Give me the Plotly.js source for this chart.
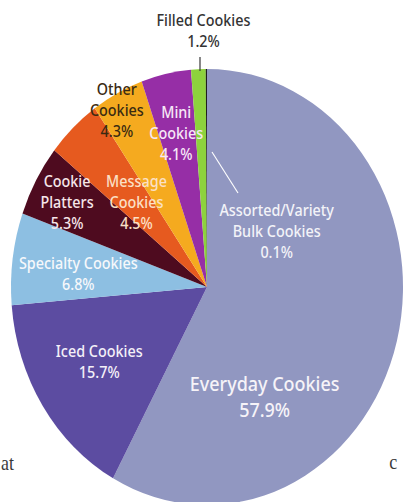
<!DOCTYPE html>
<html>
<head>
<meta charset="utf-8">
<script src="https://cdn.plot.ly/plotly-3.0.1.min.js"></script>
<style>
  html, body { margin: 0; padding: 0; background: #ffffff; overflow: hidden; width: 403px; height: 502px; }
  #wrap { width: 403px; height: 502px; overflow: hidden; position: relative; }
  #chart { width: 460px; height: 520px; transform-origin: 0 0; position: absolute; left: 0; top: 0; }
</style>
</head>
<body>
<div id="wrap"><div id="chart"></div></div>
<script>
// ---- data ----
const labels = ["Everyday Cookies", "Iced Cookies", "Specialty Cookies", "Cookie Platters",
                "Message Cookies", "Other Cookies", "Mini Cookies", "Filled Cookies",
                "Assorted/Variety Bulk Cookies"];
const values = [57.9, 15.7, 6.8, 5.3, 4.5, 4.3, 4.1, 1.2, 0.1];
const displayLabels = ["Everyday Cookies", "Iced Cookies", "Specialty Cookies", "Cookie<br>Platters",
                       "Message<br>Cookies", "Other<br>Cookies", "Mini<br>Cookies", "Filled Cookies",
                       "Assorted/Variety<br>Bulk Cookies"];
const colors = ["#9197c1", "#5c4ca1", "#8dbfe2", "#4e0b1f", "#e65a1f", "#f5aa1f", "#962ea6", "#8dd23d", "#1e1e1e"];
const strayText = ["at", "c"];

// ---- geometry (pixels in the 403x502 window) ----
const W = 460, H = 520;
const cx = 207, cy = 287, rx = 196, ry = 218;
const sx = rx / ry;
document.getElementById('chart').style.transform = 'scaleX(' + sx + ')';
const ucx = cx / sx;
const P = (x, y) => ({ x: (x / sx) / W, y: 1 - y / H });

// label placement & styles (pixel centers in the window)
const labelPos = [[265, 396, 20, "#f6f3f8"], [99, 361, 16, "#f4f0f8"], [78, 273, 16, "#f6f8fb"],
                  [67, 202, 16, "#f6e6ea"], [137, 202, 16, "#fbe0c6"], [117, 110, 16, "#3a2a12"],
                  [176, 133, 16, "#f6e8f7"], [204, 30, 16, "#333333"], [277, 231, 16, "#f3f3f8"]];

const annotations = labels.map((l, i) => {
  const p = P(labelPos[i][0], labelPos[i][1]);
  return {
    xref: 'paper', yref: 'paper', x: p.x, y: p.y, xanchor: 'center', yanchor: 'middle',
    text: displayLabels[i] + '<br>' + values[i].toFixed(1) + '%',
    showarrow: false, align: 'center',
    font: { family: 'Noto Sans, Open Sans, sans-serif', size: labelPos[i][2], color: labelPos[i][3], weight: 500 }
  };
});
const strayPos = [[8, 463], [393, 462]];
strayText.forEach((t, i) => {
  const p = P(strayPos[i][0], strayPos[i][1]);
  annotations.push({ xref: 'paper', yref: 'paper', x: p.x, y: p.y, xanchor: 'center', yanchor: 'middle',
    text: t, showarrow: false, font: { family: 'Liberation Serif, serif', size: 20, color: '#3a3a3a' } });
});

const lineSeg = (x0, y0, x1, y1, c) => {
  const a = P(x0, y0), b = P(x1, y1);
  return { type: 'line', xref: 'paper', yref: 'paper', x0: a.x, y0: a.y, x1: b.x, y1: b.y,
           line: { color: c, width: 1.3 } };
};

const trace = {
  type: 'pie',
  labels: labels,
  values: values,
  sort: false,
  direction: 'clockwise',
  rotation: 0,
  textinfo: 'none',
  hoverinfo: 'label+percent',
  marker: { colors: colors, line: { width: 0 } },
  domain: { x: [(ucx - ry) / W, (ucx + ry) / W], y: [(H - cy - ry) / H, (H - cy + ry) / H] },
  showlegend: false
};

const layout = {
  width: W, height: H,
  margin: { l: 0, r: 0, t: 0, b: 0, pad: 0 },
  paper_bgcolor: '#ffffff',
  showlegend: false,
  annotations: annotations,
  shapes: [lineSeg(200, 57, 200, 71, '#333333'), lineSeg(212, 152, 238, 193, '#ffffff')]
};

Plotly.newPlot('chart', [trace], layout, { displayModeBar: false, staticPlot: true });
</script>
</body>
</html>
